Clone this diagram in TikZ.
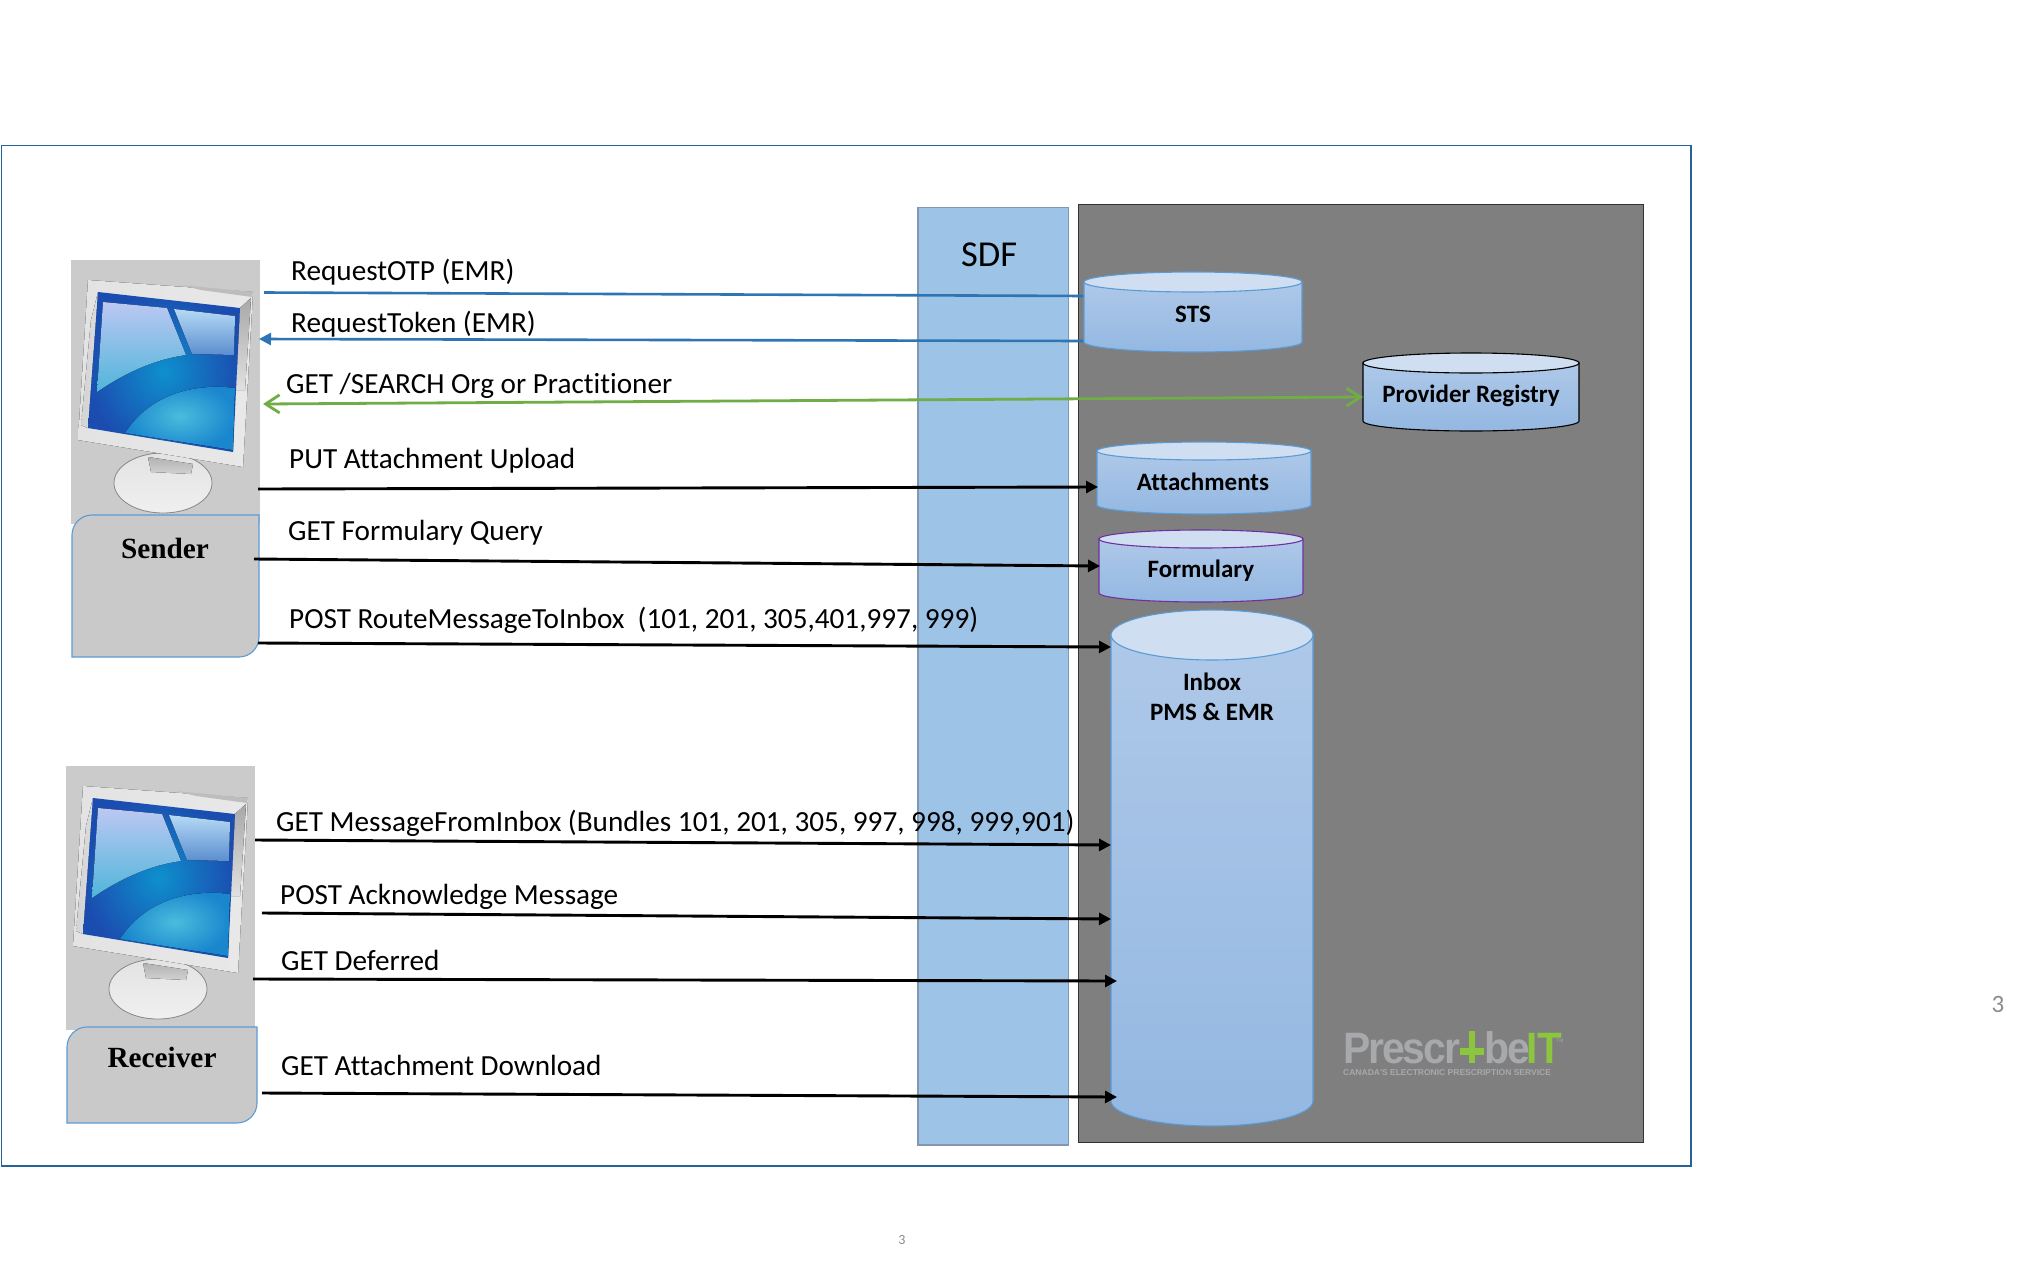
\documentclass[tikz,border=0pt]{standalone}
\usepackage{fontspec}
\setmainfont[Ligatures=CommonOff]{Carlito}
\newfontfamily\serifbold[BoldFont=* Bold]{Liberation Serif}
\newfontfamily\logofont{Liberation Sans}
\newfontfamily\logotight[LetterSpace=-5]{Liberation Sans}
\usetikzlibrary{arrows.meta}
\definecolor{frameblue}{HTML}{2E75B6}
\definecolor{edgeblue}{HTML}{5B9BD5}
\definecolor{sdffill}{HTML}{9DC3E6}
\definecolor{sdfedge}{HTML}{8497B0}
\definecolor{panel}{HTML}{7F7F7F}
\definecolor{lidfill}{HTML}{CFDFF1}
\definecolor{cyltop}{HTML}{AEC8E8}
\definecolor{cylbot}{HTML}{94B8E2}
\definecolor{boxgrey}{HTML}{C9C9C9}
\definecolor{monbg}{HTML}{CBCBCB}
\definecolor{linkgreen}{HTML}{70AD47}
\definecolor{purpleedge}{HTML}{7030A0}
\definecolor{logogrey}{HTML}{A7A9AC}
\definecolor{logogreen}{HTML}{8CC63F}
\definecolor{pagegrey}{HTML}{8C8C8C}
\tikzset{
  msg/.style={anchor=base west,inner sep=0pt,font=\fontsize{29.2}{34}\selectfont},
  dbtext/.style={inner sep=0pt,align=center,font=\fontsize{25}{30}\selectfont\bfseries},
  hosttext/.style={inner sep=0pt,font=\fontsize{29.3}{33}\selectfont\serifbold\bfseries},
  hostbox/.style={draw=edgeblue,line width=1.1pt,fill=boxgrey},
  call/.style={black,line width=2.9pt,-{Triangle[length=12pt,width=12pt]}},
  bluecall/.style={frameblue,line width=2.6pt},
  greencall/.style={linkgreen,line width=2.8pt,{Straight Barb[length=14pt,width=18pt]}-{Straight Barb[length=14pt,width=18pt]}},
  logotext/.style={inner sep=0pt,anchor=base west,transform shape,font=\fontsize{44}{48}\selectfont\bfseries},
  pics/workstation/.style={code={
    \fill[monbg] (0,0) rectangle (189,264);
    % stand
    \fill[top color=black!11,bottom color=black!6,draw=black!45,line width=.8pt]
      (92,223) ellipse [x radius=49pt,y radius=30pt];
    \fill[top color=black!30,bottom color=black!18] (77,197) -- (122,204) -- (120,214) -- (80,212) -- cycle;
    % bezel
    \fill[left color=black!11,right color=black!9] (17,20) -- (182,32) -- (172,207) -- (7,180) -- cycle;
    \fill[black!26] (110,25) -- (182,32) -- (181,37) -- (130,30) -- cycle;
    \fill[top color=black!34,bottom color=black!12] (169,48) -- (180,38) -- (174,130) -- (165,130) -- cycle;
    \fill[left color=black!17,right color=black!14] (20,60) -- (27,32) -- (17,168) -- (10,165) -- cycle;
    % screen
    \path[inner color={rgb,255:red,14;green,144;blue,205},outer color={rgb,255:red,27;green,77;blue,176}]
      (27,32) -- (169,48) -- (162,192) -- (17,168) -- cycle;
    % reflections on the glass
    \fill[top color={rgb,255:red,188;green,200;blue,243},bottom color={rgb,255:red,79;green,181;blue,218}]
      (32,42) -- (96,48) -- (115,95) .. controls (85,99) and (55,112) .. (26,132) -- cycle;
    \fill[top color={rgb,255:red,181;green,218;blue,245},bottom color={rgb,255:red,91;green,142;blue,208}]
      (103,49) -- (164,56) -- (163,95) -- (121,94) -- cycle;
    \fill[inner color={rgb,255:red,73;green,189;blue,220},outer color={rgb,255:red,26;green,134;blue,206}]
      (54,173) .. controls (75,140) and (115,122) .. (164,128) -- (162,190) -- cycle;
  }}
}
% database drum: name, x1, top, x2, bottom, lid half-height, edge colour
\newcommand{\drum}[7]{%
  \path[draw=#7,line width=1.1pt,top color=cyltop,bottom color=cylbot]
    (#2,#3+#6) -- (#2,#5-#6)
    arc [start angle=180,end angle=360,x radius={(#4-#2)/2*1pt},y radius={#6*1pt}]
    -- (#4,#3+#6) -- cycle;
  \path[draw=#7,line width=1.1pt,fill=lidfill]
    ({(#2+#4)/2},#3+#6) ellipse [x radius={(#4-#2)/2*1pt},y radius={#6*1pt}];
  \coordinate (#1) at ({(#2+#4)/2},{(#3+#5)/2});
}
\begin{document}
\begin{tikzpicture}[x=1pt,y=-1pt]
\useasboundingbox (0,0) rectangle (2021,1261);
\fill[white] (0,0) rectangle (2021,1261);

% slide frame and the two zones
\draw[frameblue!85!black,line width=1.7pt] (1.5,145.5) rectangle (1691,1166);
\draw[draw=sdfedge,line width=1.1pt,fill=sdffill] (918,207.5) rectangle (1068.5,1145);
\draw[draw=black!80,line width=1pt,fill=panel] (1078,204) rectangle (1643,1142);
\node[anchor=base west,inner sep=0pt,font=\fontsize{36.5}{40}\selectfont] (sdf) at (961,266) {SDF};

% hosts
\pic at (71,260) {workstation};
\pic at (66,766) {workstation};
\draw[hostbox] {[rounded corners=20pt] (72,600) -- (72,515) -- (180,515)} -- (259,515)
  {[rounded corners=20pt] -- (259,657) -- (180,657)} -- (72,657) -- cycle;
\node[hosttext] (sender) at (165,548) {Sender};
\draw[hostbox] {[rounded corners=20pt] (67,1080) -- (67,1027) -- (180,1027)} -- (257,1027)
  {[rounded corners=20pt] -- (257,1123) -- (180,1123)} -- (67,1123) -- cycle;
\node[hosttext] (receiver) at (162,1057) {Receiver};

% free ends on the host side
\coordinate (otpA) at (264,292.5);
\coordinate (tokA) at (259,339);
\coordinate (srchA) at (263,404);
\coordinate (putA) at (258,489);
\coordinate (formA) at (254,559);
\coordinate (postA) at (258,643);
\coordinate (getA) at (255,840);
\coordinate (ackA) at (262,913);
\coordinate (defA) at (253,979);
\coordinate (dlA) at (262,1093);
% free ends on the service side
\coordinate (otpB) at (1085,296);
\coordinate (tokB) at (1085,341);
\coordinate (srchB) at (1363,397);
\coordinate (putB) at (1098,487);
\coordinate (formB) at (1100,566);
\coordinate (postB) at (1111,647);
\coordinate (getB) at (1111,845);
\coordinate (ackB) at (1111,919);
\coordinate (defB) at (1117,981);
\coordinate (dlB) at (1117,1097);

% token traffic runs behind the STS drum
\draw[bluecall] (otpA) -- (otpB);
\draw[bluecall,-{Triangle[length=12pt,width=12pt]}] (tokB) -- (tokA);

% data stores
\drum{stsC}{1084}{272}{1302}{352}{10}{edgeblue}
\drum{regC}{1363}{353}{1579}{431}{10}{black}
\drum{attC}{1097}{442}{1311}{514}{9}{edgeblue}
\drum{forC}{1099}{530}{1303}{602}{9}{purpleedge}
\drum{inbC}{1111}{610}{1313}{1126}{25}{edgeblue}
\node[dbtext] (sts) at (1193,314) {STS};
\node[dbtext] (reg) at (1471,396) {Provider Registry};
\node[dbtext] (att) at (1203,482) {Attachments};
\node[dbtext] (for) at (1201,571) {Formulary};
\node[dbtext,anchor=base] (inb1) at (1212,690) {Inbox};
\node[dbtext,anchor=base] (inb2) at (1212,720) {PMS \& EMR};

% calls
\draw[greencall] (srchA) -- (srchB);
\draw[call] (putA) -- (putB);
\draw[call] (formA) -- (formB);
\draw[call] (postA) -- (postB);
\draw[call] (getA) -- (getB);
\draw[call] (ackA) -- (ackB);
\draw[call] (defA) -- (defB);
\draw[call] (dlA) -- (dlB);

% call labels
\node[msg] (l1) at (291,280) {RequestOTP (EMR)};
\node[msg] (l2) at (291,332) {RequestToken (EMR)};
\node[msg] (l3) at (286,393) {GET /SEARCH Org or Practitioner};
\node[msg] (l4) at (289,468) {PUT Attachment Upload};
\node[msg] (l5) at (288,540) {GET Formulary Query};
\node[msg] (l6) at (289,628) {POST RouteMessageToInbox\ \ (101, 201, 305,401,997, 999)};
\node[msg] (l7) at (276,831) {GET MessageFromInbox (Bundles 101, 201, 305, 997, 998, 999,901)};
\node[msg] (l8) at (280,904) {POST Acknowledge Message};
\node[msg] (l9) at (281,970) {GET Deferred};
\node[msg] (l10) at (281,1075) {GET Attachment Download};

% service logo
\begin{scope}[xscale=.93]
  \node[logotext,text=logogrey] (logoa) at (1343/.93,1063) {\logotight Prescr};
\end{scope}
\fill[logogreen] (1469,1031) rectangle (1475,1063);
\fill[logogreen] (1460,1048) rectangle (1484,1055);
\begin{scope}[xscale=.93]
  \node[logotext,text=logogrey] (logob) at (1484/.93,1063) {\logotight be};
\end{scope}
\begin{scope}[xscale=.92]
  \node[logotext,text=logogreen] (logoc) at (1526/.92,1063) {\logofont IT};
\end{scope}
\node[inner sep=0pt,anchor=base west,text=logogrey,font=\fontsize{5}{6}\selectfont\logofont] (logod) at (1556,1042) {TM};
\node[inner sep=0pt,anchor=base west,text=logogrey,font=\fontsize{8.5}{10}\selectfont\logofont\bfseries] (logoe) at (1343,1075) {CANADA'S ELECTRONIC PRESCRIPTION SERVICE};

% slide numbers
\node[text=pagegrey,inner sep=0pt,font=\fontsize{25}{28}\selectfont] (page1) at (1998,1004) {3};
\node[text=pagegrey,inner sep=0pt,font=\fontsize{14}{16}\selectfont] (page2) at (902,1240) {3};
\end{tikzpicture}
\end{document}
